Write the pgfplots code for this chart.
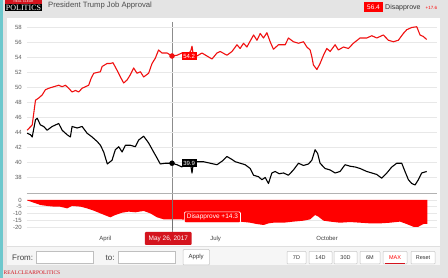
\documentclass[border=0pt]{standalone}
\usepackage{fontspec}
\setmainfont{Liberation Sans}
\newfontfamily\seriffont{Liberation Serif}
\usepackage{pgfplots}
\pgfplotsset{compat=1.18}
\definecolor{bggray}{RGB}{228,228,228}
\definecolor{stripteal}{RGB}{110,200,205}
\definecolor{rcpred}{RGB}{255,0,0}
\definecolor{linered}{RGB}{240,16,16}
\definecolor{boxred}{RGB}{212,20,30}
\definecolor{gridgray}{RGB}{232,232,232}
\definecolor{ticktext}{RGB}{95,95,95}
\definecolor{ctrlbg}{RGB}{246,246,246}
\begin{document}
\begin{tikzpicture}
\path[use as bounding box] (0,0) rectangle (448pt,278pt);
\clip (0,0) rectangle (448pt,278pt);
\begin{scope}[x=1pt,y=-1pt,shift={(0pt,278pt)}]
  \fill[bggray] (0,0) rectangle (448,278);
  \fill[stripteal] (0,0) rectangle (3,278);
  \fill[white] (7,18.5) rectangle (440,265);
  \fill[ctrlbg] (7,246.5) rectangle (440,265);
  \draw[gray!25, line width=0.5pt] (7,246.5) -- (440,246.5);
  % logo
  \fill[black] (5,0) rectangle (42,11);
  \fill[boxred] (5,0) rectangle (42,3.6);
  \node[white, inner sep=0, font=\fontsize{3.2}{3.2}\selectfont] at (23.5,1.9) {REAL CLEAR};
  \node[white, inner sep=0, font=\seriffont\fontsize{8}{8}\selectfont] at (23.5,7.6) {POLITICS};
  % title
  \node[anchor=base west, inner sep=0, text=black!70, font=\fontsize{7.7}{7.7}\selectfont] at (48,7.6) {President Trump Job Approval};
  % top right readout
  \fill[rcpred] (364,2.5) rectangle (383,12.5);
  \node[white, inner sep=0, font=\fontsize{6.5}{6.5}\selectfont] at (373.5,7.5) {56.4};
  \node[anchor=west, inner sep=0, text=black!80, font=\fontsize{7}{7}\selectfont] at (385,7.5) {Disapprove};
  \node[anchor=west, inner sep=0, text=rcpred, font=\fontsize{4.5}{4.5}\selectfont] at (425.5,7.8) {+17.6};
  % crosshair
  \draw[black!45, line width=0.5pt] (172,22) -- (172,232);
  % controls
  \node[anchor=west, inner sep=0, text=black!75, font=\fontsize{8}{8}\selectfont] at (12,258) {From:};
  \draw[gray!50, fill=white, line width=0.5pt] (36,251.5) rectangle (93,263);
  \node[anchor=west, inner sep=0, text=black!75, font=\fontsize{8}{8}\selectfont] at (105.5,258) {to:};
  \draw[gray!50, fill=white, line width=0.5pt] (118,251.5) rectangle (175.5,263);
  \draw[gray!45, fill=white, line width=0.5pt, rounded corners=1pt] (183,249.5) rectangle (209.5,265);
  \node[inner sep=0, text=black!80, font=\fontsize{6}{6}\selectfont] at (196.2,257.3) {Apply};
  \foreach \xa/\xb/\lab in {287/306/7D, 309/332/14D, 334/357/30D, 360/380/6M, 411/435/Reset}{
    \draw[gray!45, fill=white, line width=0.5pt, rounded corners=0.8pt] (\xa,251.5) rectangle (\xb,264);
    \node[inner sep=0, text=black!80, font=\fontsize{5.5}{5.5}\selectfont] at ({(\xa+\xb)/2},257.8) {\lab};
  }
  \draw[gray!45, fill=white, line width=0.5pt, rounded corners=0.8pt] (383,251.5) rectangle (407,264);
  \node[inner sep=0, text=rcpred, font=\fontsize{5.5}{5.5}\selectfont] at (395,257.5) {MAX};
  \draw[boxred, line width=0.9pt] (385,263) -- (405,263);
  \node[anchor=west, inner sep=0, text=boxred, font=\seriffont\fontsize{5.5}{5.5}\selectfont] at (3.5,273) {REALCLEARPOLITICS};
\end{scope}

% ---------- upper panel ----------
\begin{axis}[
  at={(27pt,85pt)}, anchor=south west, scale only axis,
  width=410pt, height=173pt,
  xmin=25.3, xmax=363.7, ymin=35.93, ymax=59,
  axis line style={draw=none},
  xtick=\empty,
  ytick={38,40,...,58},
  ymajorgrids, major grid style={draw=gridgray, line width=1.3pt},
  major tick length=0pt,
  yticklabel style={font=\fontsize{6}{6}\selectfont, text=ticktext, anchor=east, inner sep=0pt, xshift=-5pt},
  /pgf/number format/assume math mode=true,
  clip=false,
]
\draw[gray!60, line width=0.8pt] (rel axis cs:0,0) -- (rel axis cs:1,0);
\addplot[linered, line width=1.1pt, line join=round] coordinates {
(25.4,44.3)(29.6,45.0)(32.3,48.3)(35,48.6)(37.8,49.0)(40.5,49.7)(43.3,49.9)(47.4,50.1)(51.5,50.3)(54.3,50.1)(57,50.3)(59.7,49.9)(62.5,49.4)(65.3,49.6)(68,49.4)(70.8,49.9)(73.5,50.1)(76.2,50.3)(78.2,51.2)(80.4,51.9)(85.9,52.1)(87.3,52.8)(91.4,53.2)(94.1,53.2)(96.3,53.3)(99.6,52.3)(102.4,51.4)(105.1,50.6)(107.9,51.0)(110.6,51.7)(113.3,52.6)(116.1,51.9)(118.9,52.1)(121.6,51.4)(125.7,51.9)(128.5,53.2)(131.2,53.9)(133.9,55.0)(136.7,54.6)(140.9,54.6)(145,54.2)(149.1,54.3)(153.2,54.6)(157.4,54.2)(160.5,54.9)(161.5,55.5)(162.5,54.4)(165.6,54.2)(169.7,54.6)(173.8,54.2)(178,53.8)(182.1,54.6)(184.8,54.8)(190.3,54.3)(194.5,54.8)(198.6,55.7)(201.2,55.2)(204,55.9)(206.8,55.4)(212.3,57.0)(215.1,56.3)(217.8,57.2)(220.5,56.6)(223.3,57.3)(226,56.1)(228.7,55.1)(232.9,55.7)(238.4,55.7)(241.1,56.6)(245.2,56.1)(249.4,55.9)(253.5,56.1)(256.3,55.4)(259,55.0)(260.4,54.1)(261.7,53.0)(264.6,52.4)(267.2,53.2)(270,54.3)(272.8,55.2)(275.5,54.8)(279.6,55.7)(282.3,55.0)(286.5,55.4)(290.6,55.2)(294.7,55.9)(300.2,56.6)(305.7,56.6)(309.9,56.9)(314,56.6)(319.4,57.0)(323.6,56.3)(327.7,56.1)(331.8,56.3)(335.9,57.2)(338.7,57.7)(342.8,58.0)(347,58.1)(349.7,57.0)(352.4,56.8)(355.2,56.4)
};
\addplot[black, line width=1.1pt, line join=round] coordinates {
(25.4,43.9)(28.2,43.7)(29.6,43.4)(32.3,45.7)(33.7,45.9)(36.4,45.0)(39.1,44.8)(41.9,44.3)(46.1,44.8)(48.8,45.0)(51.5,45.2)(54.3,44.3)(58.4,43.7)(61.1,43.4)(62.5,44.8)(66.7,44.6)(70.8,44.8)(74.9,43.9)(79,43.4)(83.2,42.8)(85.9,42.3)(88.6,41.4)(91.6,39.8)(95.5,40.3)(98.2,41.7)(101,42.1)(103.8,41.4)(106.5,42.3)(110.6,42.3)(114.7,42.1)(117.5,43.0)(121.6,43.5)(125.7,42.6)(129.8,41.4)(132.6,40.6)(135.3,39.8)(139.5,39.9)(145,39.9)(149.1,39.7)(153.2,39.4)(156,40.3)(160.5,39.6)(161.5,38.6)(162.5,39.8)(165.6,40.1)(171,40.1)(176.6,39.9)(182.1,39.7)(186.5,40.2)(190.3,40.8)(194.5,40.4)(197.2,40.1)(201.3,39.9)(205.4,39.7)(209.5,39.2)(212.3,38.3)(216.4,38.1)(219.2,37.7)(221.9,38.0)(224.6,37.2)(227.4,38.6)(230.1,38.8)(233.4,38.5)(237,38.6)(241.1,38.3)(245.2,39.0)(249.4,39.9)(253.5,39.6)(257.6,39.8)(260.4,40.3)(263.1,41.7)(265.2,41.2)(267.2,39.9)(271.3,39.2)(275.5,39.0)(279.6,38.6)(283.7,38.8)(287.8,39.7)(292,39.5)(296.1,39.4)(300.2,39.2)(305.7,38.8)(309.9,38.6)(314,38.4)(318.1,37.9)(322.3,38.6)(326.4,39.4)(330.5,39.9)(334.6,39.9)(337.3,38.8)(340.1,37.7)(342.8,37.2)(345.6,37.0)(348.3,37.7)(351.1,38.6)(355.2,38.8)
};
\addplot[only marks, mark=*, mark size=2.5pt, color=linered,
  nodes near coords,
  nodes near coords style={anchor=west, xshift=9.5pt, fill=rcpred, text=white,
    font=\fontsize{6}{6}\selectfont, inner xsep=1.6pt, inner ysep=1.8pt}]
  coordinates {(145,54.2)};
\addplot[only marks, mark=*, mark size=2.5pt, color=black,
  nodes near coords,
  nodes near coords style={anchor=west, xshift=9.5pt, fill=black, text=white,
    font=\fontsize{6}{6}\selectfont, inner xsep=1.6pt, inner ysep=1.8pt}]
  coordinates {(145,39.9)};
\end{axis}

% ---------- lower panel (spread) ----------
\begin{axis}[
  at={(27pt,48pt)}, anchor=south west, scale only axis,
  width=410pt, height=34pt,
  xmin=25.3, xmax=363.7, ymin=-22.2, ymax=2.96,
  axis line style={draw=none},
  xtick={90,181,273}, xticklabels={April,July,October},
  ytick={-20,-15,-10,-5,0},
  ymajorgrids, major grid style={draw=gridgray, line width=0.8pt},
  major tick length=0pt,
  yticklabel style={font=\fontsize{6}{6}\selectfont, text=ticktext, anchor=east, inner sep=0pt, xshift=-5pt},
  xticklabel style={font=\fontsize{6}{6}\selectfont, text=black!75, anchor=center, inner sep=0pt, yshift=-8.5pt},
  /pgf/number format/assume math mode=true,
  clip=false,
]
\addplot[fill=rcpred, draw=none] coordinates {
(25.4,0)(25.4,-0.3)(30.9,-2.0)(36.4,-3.7)(41.9,-4.4)(47.4,-4.9)(52.9,-5.0)(58.4,-6.2)(62.5,-4.4)(69.4,-4.9)(74.9,-6.2)(80.4,-7.9)(85.9,-9.9)(91.4,-11.9)(94.1,-12.8)(98.2,-11.1)(103.8,-9.4)(109.2,-8.6)(114.7,-9.1)(121.6,-8.1)(127.1,-9.9)(132.6,-12.8)(138.1,-14.3)(145,-14.3)(151.8,-14.3)(157.4,-14.8)(162.8,-15.3)(168.3,-14.8)(173.8,-14.8)(182.1,-14.3)(190.3,-14.8)(201.3,-16.0)(209.5,-16.8)(215.1,-17.8)(220.5,-18.5)(224.6,-17.3)(228.7,-16.8)(237,-16.8)(245.2,-16.0)(253.5,-15.3)(259,-14.3)(263.1,-11.1)(265.8,-12.3)(270,-15.3)(275.5,-16.0)(283.7,-16.8)(292,-16.3)(300.2,-16.8)(308.5,-17.3)(316.7,-17.3)(325,-16.8)(333.2,-16.0)(338.7,-17.8)(344.2,-19.8)(348.3,-19.8)(352.4,-17.8)(355.7,-17.6)(355.7,0)
};
\draw[black!55, line width=0.5pt] (axis cs:145,0) -- (axis cs:145,-22.2);
\node[fill=rcpred, draw=white, line width=0.6pt, rounded corners=1.2pt, text=white,
  font=\fontsize{6.5}{6.5}\selectfont, anchor=west, inner xsep=2.5pt, inner ysep=2.4pt,
  xshift=12pt] at (axis cs:145,-12.8) {Disapprove +14.3};
\end{axis}

\begin{scope}[x=1pt,y=-1pt,shift={(0pt,278pt)}]
  \node[fill=boxred, text=white, font=\fontsize{6.5}{6.5}\selectfont, minimum width=46.7pt,
    minimum height=13pt, inner sep=0pt, rounded corners=1pt] at (168.3,238.5) {May 26, 2017};
\end{scope}
\end{tikzpicture}
\end{document}
